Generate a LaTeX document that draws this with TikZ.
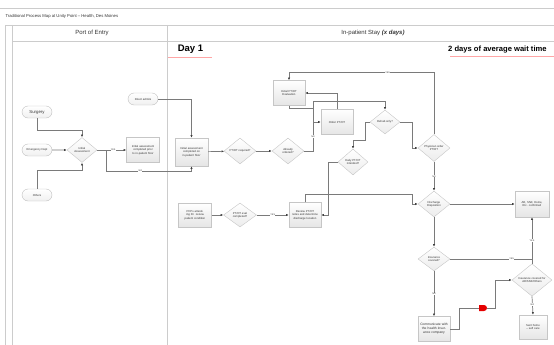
\documentclass[tikz,border=0pt]{standalone}
\usepackage{fontspec}
\setmainfont{Liberation Sans}
\usetikzlibrary{arrows.meta,shapes.geometric,shapes.misc}

\begin{document}
\begin{tikzpicture}[x=1pt, y=-1pt,
  every node/.style={font=\fontsize{2.8}{3.3}\selectfont, text=black!80},
  proc/.style={draw=gray!45, top color=white, bottom color=gray!20,
    minimum width=33pt, minimum height=25pt, inner sep=0.5pt,
    text width=28pt, align=center},
  decision/.style={diamond, draw=gray!45, top color=white, bottom color=gray!15,
    minimum width=32pt, minimum height=26pt, inner sep=0pt, align=center},
  pill/.style={rounded rectangle, draw=gray!50, top color=white, bottom color=gray!12,
    minimum width=32pt, minimum height=12pt, inner sep=1pt},
  flow/.style={draw=black!52, line width=0.7pt,
    -{Latex[length=2.6pt,width=2.2pt,color=black!75]}},
  link/.style={draw=black!52, line width=0.7pt},
  yn/.style={fill=white, inner sep=0.4pt, font=\fontsize{2.3}{2.7}\selectfont},
  lane/.style={draw=gray!40, line width=0.8pt},
  underln/.style={draw=red!35, line width=0.6pt},
]
\useasboundingbox (0,0) rectangle (554,345);
\clip (0,0) rectangle (554,345);

%% Pool frame and lane headers
\draw[lane] (0,8) -- (554,8);
\draw[lane] (5,25) -- (554,25);
\draw[lane] (12,41) -- (554,41);
\foreach \xl in {5,12,167}
  \draw[lane] (\xl,25) -- (\xl,345);

\node[anchor=west, font=\fontsize{4.2}{5}\selectfont] (title) at (2,16.5)
  {Traditional Process Map at Unity Point -- Health, Des Moines};
\node[font=\fontsize{6}{7}\selectfont] (entry) at (92,33) {Port of Entry};
\node[font=\fontsize{6}{7}\selectfont] (stay) at (373,33)
  {In-patient Stay \textbf{\textit{(x days)}}};

\node[font=\fontsize{9.5}{11}\selectfont\bfseries, text=black] (day) at (190.5,49) {Day 1};
\draw[underln] (168,57) -- (212,57);
\node[anchor=west, inner sep=1pt, font=\fontsize{7.6}{9}\selectfont\bfseries, text=black] (wait) at (447,49.5)
  {2 days of average wait time};
\draw[underln] (450,56) -- (554,56);

%% Port of Entry
\node[pill, font=\fontsize{4.3}{5}\selectfont] (surgery) at (37,112) {Surgery};
\node[pill] (emerg) at (37,150) {Emergency Dept};
\node[pill] (others) at (37,195) {Others};
\node[decision, minimum width=30pt, minimum height=25pt] (initassess) at (82,150)
  {Initial\\Assessment};
\node[proc] (prior) at (143,150)
  {Initial assessment completed prior to in-patient floor};
\node[pill] (direct) at (143,99) {Direct admits};

%% In-patient stay
\node[proc, minimum height=28pt] (onfloor) at (191.5,152)
  {Initial assessment completed on in-patient floor};
\node[decision] (ptotreq) at (240,151) {PT/OT required?};
\node[decision] (already) at (288,151) {Already\\ordered?};
\node[proc, minimum width=32pt] (initeval) at (289,93) {Initial PT/OT\\Evaluation};
\node[proc, minimum width=32pt] (order) at (337,122) {Order PT/OT};
\node[decision, minimum width=30pt, minimum height=24pt] (rehab) at (385,122) {Rehab only?};
\node[decision, minimum width=30pt] (daily) at (353,162) {Daily PT/OT\\intended?};
\node[decision, minimum height=27pt] (physician) at (434,148) {Physician order\\PT/OT};
\node[proc, minimum height=24pt] (pcp) at (195,215)
  {PCPs attending Dr. review patient condition};
\node[decision, minimum width=33pt, minimum height=24pt] (evaldone) at (240,215)
  {PT/OT eval\\completed?};
\node[proc, minimum width=32pt] (review) at (305,215)
  {Review PT/OT notes and determine discharge location};
\node[decision] (dispo) at (434,204) {Discharge\\Disposition};
\node[proc, minimum width=34pt, minimum height=26pt] (confirmed) at (532,204)
  {AR, SNF, Home, Etc. confirmed};
\node[decision, minimum height=24pt] (inscov) at (434,259) {Insurance\\covered?};
\node[decision, minimum width=40pt, minimum height=30pt] (insar) at (532,280)
  {Insurance covered for\\AR/SNF/Others};
\node[proc, minimum width=32pt, font=\fontsize{3.3}{3.9}\selectfont] (communicate) at (434,329)
  {Communicate with the health insurance company};
\node[proc, minimum width=28pt, minimum height=24pt, text width=24pt] (sent) at (533,327)
  {Sent home -- self care};
\node[rounded rectangle, rounded rectangle west arc=none, fill=red!90!black,
      minimum width=8pt, minimum height=6pt, inner sep=0pt] (delay) at (483,308) {};

%% Connectors: port of entry
\draw[flow] (surgery.south) -- ++(0,12) -| (initassess.north);
\draw[flow] (emerg) -- (initassess.west);
\draw[flow] (others.north) -- ++(0,-18) -| (initassess.south);
\draw[flow] (initassess.east) -- node[yn, pos=0.55]{YES} (prior.west);
\draw[flow] (initassess.east) -- ++(9,0) -- ++(0,21) -| node[yn, pos=0.2]{NO} (onfloor.south);
\draw[flow] (direct.east) -| (onfloor.north);

%% Connectors: PT/OT
\coordinate (jA) at (313,101);
\draw[flow] (onfloor) -- (ptotreq);
\draw[flow] (ptotreq) -- (already);
\draw[flow] (already.east) -| node[yn, pos=0.75]{NO} (jA |- order) -- (order.west);
\draw[link] (jA |- order) -- (jA);
\draw[flow] (initeval.south) -- ++(0,3) -| (jA) -| (rehab.north);
\draw[flow] (order.north) |- (initeval.east);
\draw[flow] (physician.north) -- ++(0,-61.5) -| node[yn, pos=0.16]{YES} (initeval.north);
\draw[flow] (rehab.west) -- ++(-4,0) -- ++(0,18) -| (daily.north);
\draw[flow] (rehab.east) -- ++(12,0) |- (physician.west);
\draw[flow] (physician.south) -- node[yn, pos=0.5]{NO} (dispo.north);
\draw[flow] (daily.west) -- ++(-9,0) |- (review.east);
\draw[flow] (pcp) -- (evaldone);
\draw[flow] (evaldone) -- node[yn, pos=0.5]{YES} (review);
\draw[flow] (review.north) -- ++(0,-7.5) -- ++(107,0) |- (dispo.west);

%% Connectors: discharge
\draw[flow] (dispo.east) -- (confirmed.west);
\draw[flow] (dispo.south) -- (inscov.north);
\draw[link] (inscov.east) -- node[yn, pos=0.75]{YES} (inscov.east -| insar);
\draw[flow] (insar.north) -- node[yn, pos=0.5]{YES} (confirmed.south);
\draw[flow] (inscov.south) -- node[yn, pos=0.5]{NO} (communicate.north);
\draw[link] (communicate.east) -- ++(9,0) |- (delay.west);
\draw[flow] (delay.east) -- ++(8,0) |- (insar.west);
\draw[flow] (insar.south) -- node[yn, pos=0.45]{NO} (sent.north);

\end{tikzpicture}
\end{document}
